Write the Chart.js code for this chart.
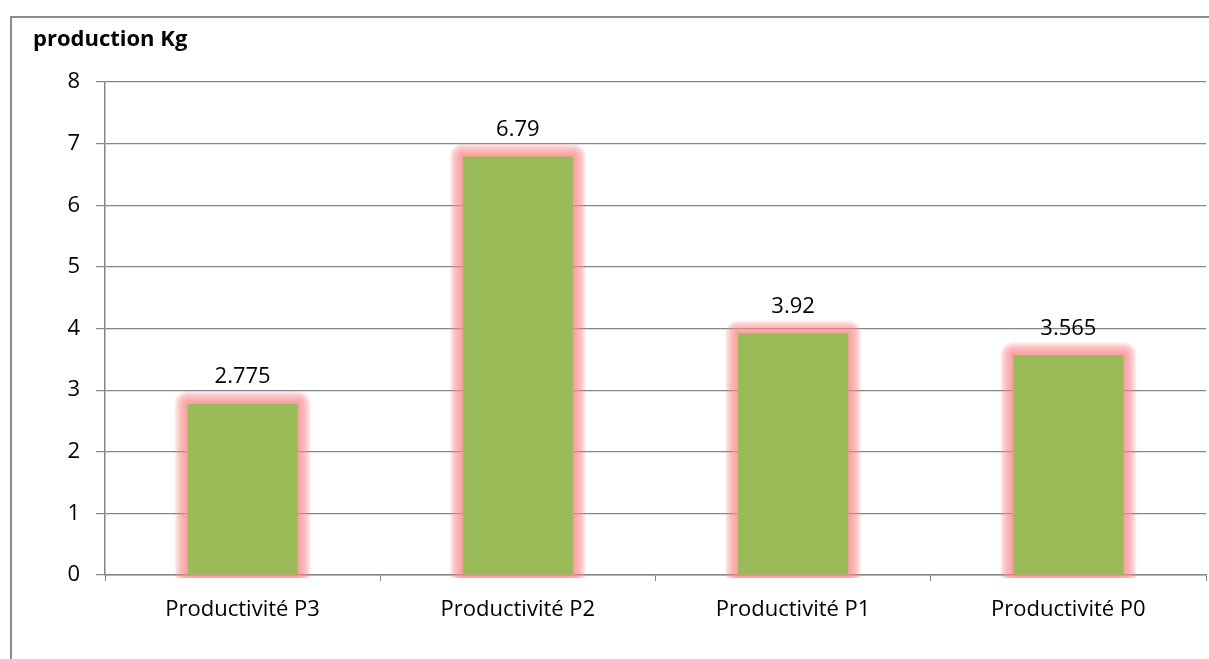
<!DOCTYPE html>
<html>
<head>
<meta charset="utf-8">
<script src="https://cdn.jsdelivr.net/npm/chart.js@4.4.1/dist/chart.umd.min.js"></script>
<style>
  html, body { margin: 0; padding: 0; background: #fff; overflow: hidden; }
  #wrap { position: relative; width: 1209px; height: 659px; }
  #frame { position: absolute; left: 10px; top: 16px; width: 1300px; height: 800px;
           border: 2px solid #8c8c8c; box-sizing: border-box; }
  canvas { position: absolute; left: 0; top: 0; }
</style>
</head>
<body>
<div id="wrap">
  <div id="frame"></div>
  <canvas id="prodChart" width="1209" height="659"></canvas>
</div>
<script>
// production per plot (kg)
const categories = ["Productivité P3", "Productivité P2", "Productivité P1", "Productivité P0"];
const production = [2.775, 6.79, 3.92, 3.565];
const valueLabels = ["2.775", "6.79", "3.92", "3.565"];
const yTicks = [0, 1, 2, 3, 4, 5, 6, 7, 8];

const FONT = "'Open Sans', 'Noto Sans', sans-serif";

// soft pink outer glow behind each bar, built from stacked translucent rounded rects
const barGlow = {
  id: 'barGlow',
  beforeDatasetsDraw(chart) {
    const ctx = chart.ctx;
    const meta = chart.getDatasetMeta(0);
    const area = chart.chartArea;
    ctx.save();
    // glow stops just under the baseline
    ctx.beginPath();
    ctx.rect(area.left, 0, area.right - area.left, area.bottom + 3);
    ctx.clip();
    ctx.fillStyle = 'rgba(248, 140, 140, 0.12)';
    meta.data.forEach(bar => {
      const w = bar.width;
      const x0 = bar.x - w / 2, y0 = bar.y, h = bar.base - bar.y;
      for (let i = 13; i >= 1; i--) {
        ctx.beginPath();
        ctx.roundRect(x0 - i, y0 - i, w + 2 * i, h + 2 * i, i);
        ctx.fill();
      }
    });
    ctx.restore();
  }
};

// value labels above the bars and the chart title
const extras = {
  id: 'extras',
  afterDatasetsDraw(chart) {
    const ctx = chart.ctx;
    const meta = chart.getDatasetMeta(0);
    ctx.save();
    ctx.fillStyle = '#000';
    ctx.font = '22px ' + FONT;
    ctx.textAlign = 'center';
    ctx.textBaseline = 'middle';
    meta.data.forEach((bar, i) => {
      ctx.fillText(valueLabels[i], bar.x, bar.y - 27);
    });
    ctx.font = 'bold 22px ' + FONT;
    ctx.textAlign = 'left';
    ctx.fillText('production Kg', 33, 40);
    ctx.restore();
  }
};

const ctx = document.getElementById('prodChart').getContext('2d');
new Chart(ctx, {
  type: 'bar',
  data: {
    labels: categories,
    datasets: [{
      data: production,
      backgroundColor: '#9bbb59',
      borderWidth: 0,
      barPercentage: 0.8,
      categoryPercentage: 0.5
    }]
  },
  options: {
    responsive: false,
    animation: false,
    layout: { padding: { left: 0, top: 82, right: 3, bottom: 0 } },
    plugins: {
      legend: { display: false },
      tooltip: { enabled: false }
    },
    scales: {
      x: {
        grid: {
          offset: true,
          drawOnChartArea: false,
          color: '#868686',
          tickLength: 6
        },
        border: { color: '#868686', width: 1.5 },
        ticks: { color: '#000', font: { size: 22, family: FONT }, padding: 16 },
        afterFit(scale) { scale.height = 84; }
      },
      y: {
        min: 0,
        max: 8,
        afterBuildTicks(scale) { scale.ticks = yTicks.map(v => ({ value: v })); },
        grid: { color: '#868686', lineWidth: 1.2, tickLength: 9 },
        border: { color: '#868686', width: 1.5 },
        ticks: { color: '#000', font: { size: 22, family: FONT }, padding: 16 },
        afterFit(scale) { scale.width = 105; }
      }
    }
  },
  plugins: [barGlow, extras]
});
</script>
</body>
</html>
